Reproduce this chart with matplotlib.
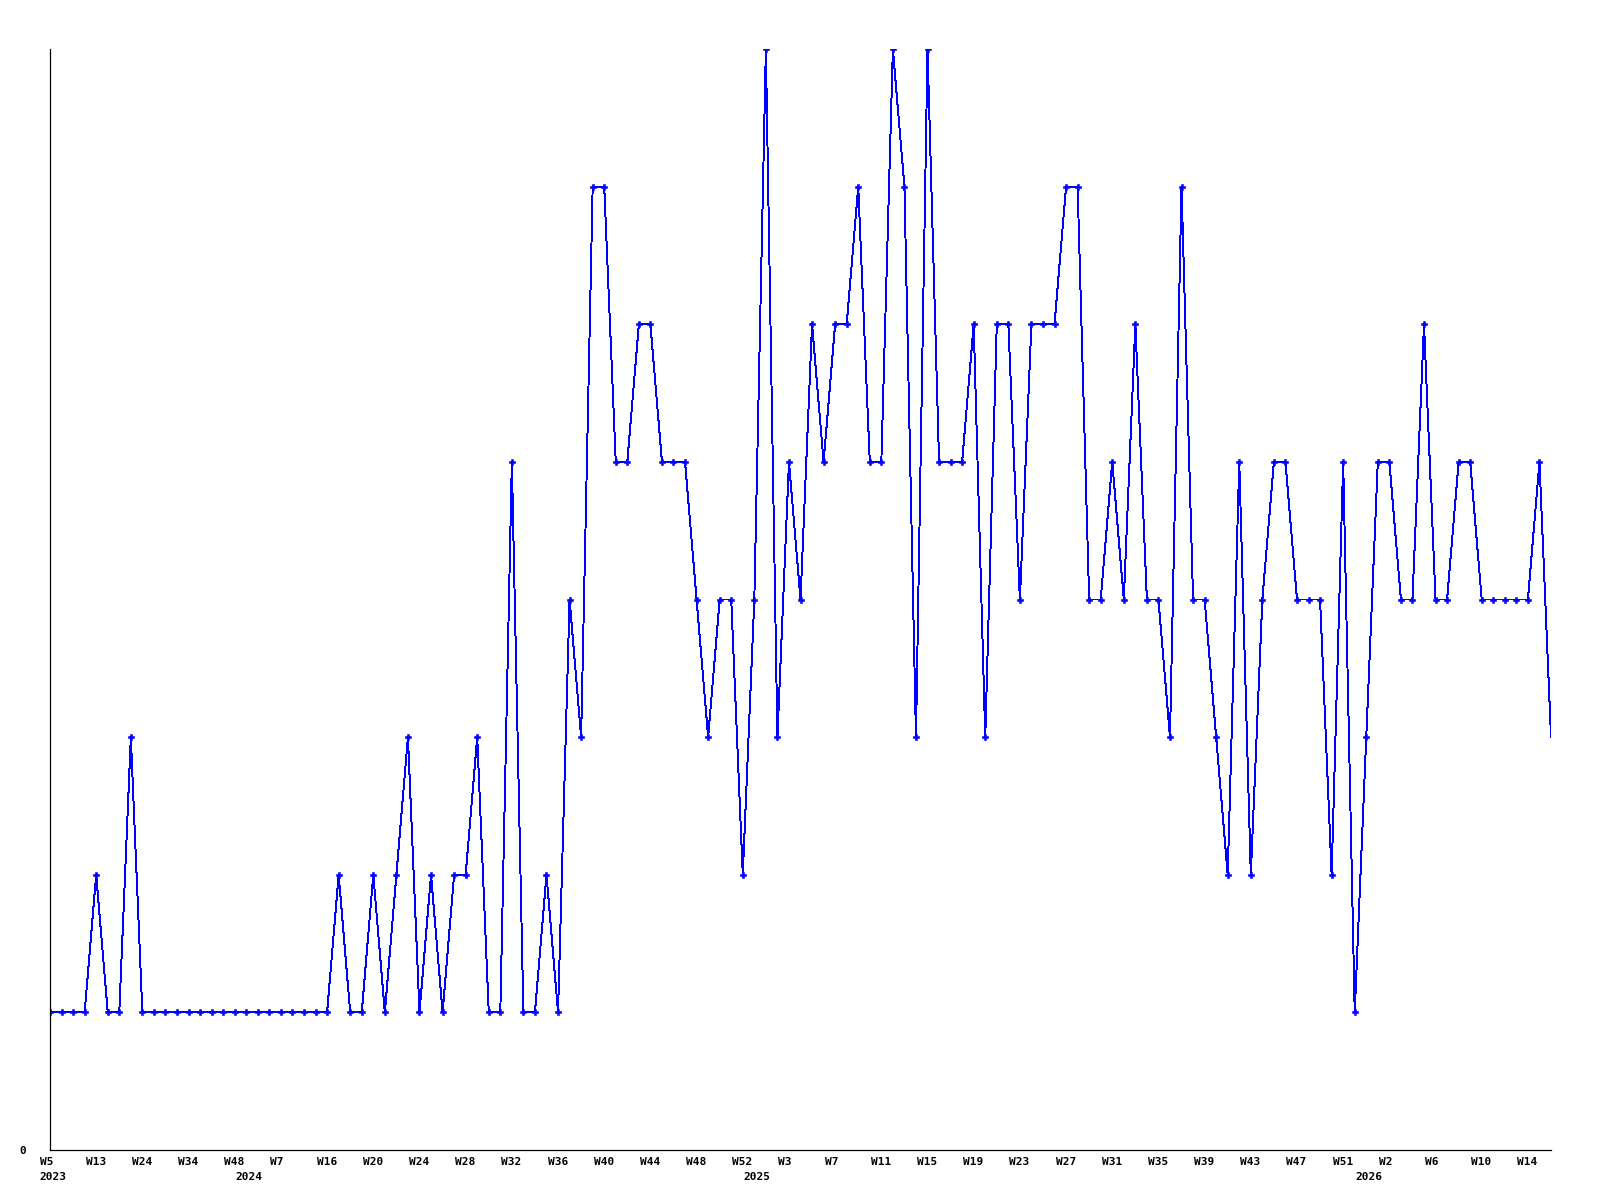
import matplotlib
matplotlib.use("Agg")
import matplotlib.pyplot as plt
from matplotlib.transforms import ScaledTranslation

# weekly counts, one per point
values = [
    1, 1, 1, 1, 2, 1, 1, 3, 1, 1,
    1, 1, 1, 1, 1, 1, 1, 1, 1, 1,
    1, 1, 1, 1, 1, 2, 1, 1, 2, 1,
    2, 3, 1, 2, 1, 2, 2, 3, 1, 1,
    5, 1, 1, 2, 1, 4, 3, 7, 7, 5,
    5, 6, 6, 5, 5, 5, 4, 3, 4, 4,
    2, 4, 8, 3, 5, 4, 6, 5, 6, 6,
    7, 5, 5, 8, 7, 3, 8, 5, 5, 5,
    6, 3, 6, 6, 4, 6, 6, 6, 7, 7,
    4, 4, 5, 4, 6, 4, 4, 3, 7, 4,
    4, 3, 2, 5, 2, 4, 5, 5, 4, 4,
    4, 2, 5, 1, 3, 5, 5, 4, 4, 6,
    4, 4, 5, 5, 4, 4, 4, 4, 4, 5,
    3,
]
week_labels = ["W5", "W13", "W24", "W34", "W48", "W7", "W16", "W20", "W24",
               "W28", "W32", "W36", "W40", "W44", "W48", "W52", "W3", "W7",
               "W11", "W15", "W19", "W23", "W27", "W31", "W35", "W39", "W43",
               "W47", "W51", "W2", "W6", "W10", "W14"]
week_pos = list(range(0, 4 * len(week_labels), 4))
year_labels = ["2023", "2024", "2025", "2026"]
year_pos = [0, 17, 61, 114]

fig = plt.figure(figsize=(16, 12), dpi=100)
ax = fig.add_axes([50 / 1600, 50 / 1200, 1501 / 1600, 1101 / 1200])

x = list(range(len(values)))
ax.plot(x, values, "-", color="#0000ff", lw=0.7, marker="P", ms=4,
        mew=0.4, markevery=list(range(len(values) - 1)), antialiased=False)

ax.set_xlim(0, len(values) - 1)
ax.set_ylim(0, 8)
for s in ("top", "right"):
    ax.spines[s].set_visible(False)
for s in ("left", "bottom"):
    ax.spines[s].set_linewidth(0.9)
    ax.spines[s].set_color("black")

font = dict(family="DejaVu Sans Mono", weight="bold", size=8)
ax.set_yticks([0], ["0"], **font)
ax.tick_params(axis="y", length=0, pad=17)

ax.xaxis.remove_overlapping_locs = False
ax.set_xticks(week_pos, week_labels, **font)
ax.set_xticks(year_pos, year_labels, minor=True, **font)
ax.tick_params(axis="x", which="major", length=0, pad=5)
ax.tick_params(axis="x", which="minor", length=0, pad=15.5)

shift = ScaledTranslation(-10.5 / 100, 0, fig.dpi_scale_trans)
for lab in ax.get_xticklabels() + ax.get_xticklabels(minor=True):
    lab.set_horizontalalignment("left")
    lab.set_transform(lab.get_transform() + shift)

fig.savefig("out.png", dpi=100)
